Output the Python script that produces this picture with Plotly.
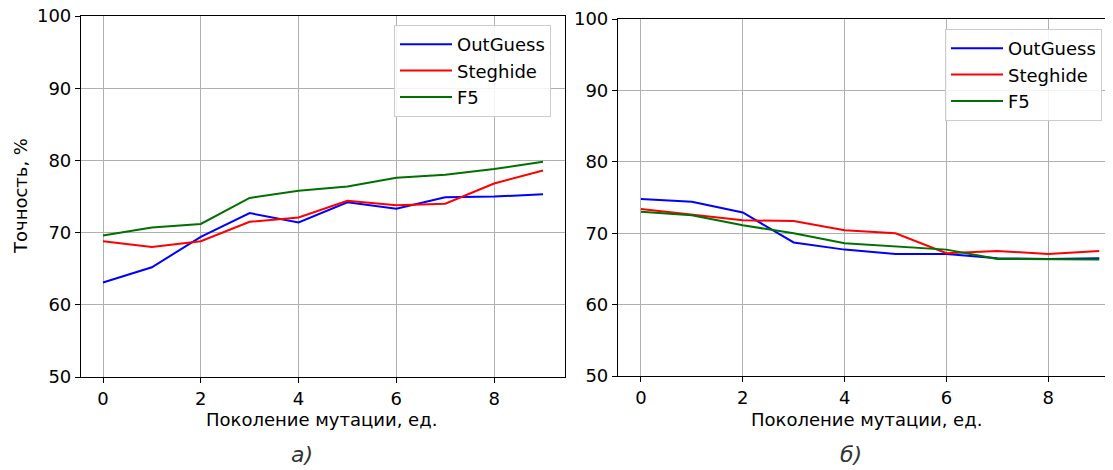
import plotly.graph_objects as go

generations = list(range(10))

# panel a)
a_outguess = [63.1, 65.2, 69.4, 72.7, 71.4, 74.2, 73.3, 74.9, 75.0, 75.3]
a_steghide = [68.8, 68.0, 68.8, 71.5, 72.1, 74.4, 73.8, 74.0, 76.8, 78.6]
a_f5 = [69.6, 70.7, 71.2, 74.8, 75.8, 76.4, 77.6, 78.0, 78.8, 79.8]

# panel б)
b_outguess = [74.8, 74.4, 72.9, 68.7, 67.7, 67.1, 67.1, 66.5, 66.4, 66.5]
b_steghide = [73.4, 72.6, 71.8, 71.7, 70.4, 70.0, 67.2, 67.5, 67.1, 67.5]
b_f5 = [73.0, 72.5, 71.1, 70.0, 68.6, 68.2, 67.7, 66.4, 66.3, 66.3]

series_names = ["OutGuess", "Steghide", "F5"]
colors = ["#0000ff", "#ff0000", "#007000"]
x_ticks = [0, 2, 4, 6, 8]
y_ticks = [50, 60, 70, 80, 90, 100]

# page body has an 8px margin; the figure is sized and positioned to compensate
OFF = 8
W, H = 1113 - OFF, 470 - OFF
FONT = "DejaVu Sans"
FS = 18


def px(x):
    return (x - OFF) / W


def py(y):
    return 1 - (y - OFF) / H


fig = go.Figure()
for vals, name, c in zip([a_outguess, a_steghide, a_f5], series_names, colors):
    fig.add_trace(go.Scatter(x=generations, y=vals, mode="lines", name=name,
                             line=dict(color=c, width=2), xaxis="x", yaxis="y",
                             legend="legend"))
for vals, name, c in zip([b_outguess, b_steghide, b_f5], series_names, colors):
    fig.add_trace(go.Scatter(x=generations, y=vals, mode="lines", name=name,
                             line=dict(color=c, width=2), xaxis="x2", yaxis="y2",
                             legend="legend2"))

axis_common = dict(showline=True, linecolor="black", linewidth=1.2, mirror=True,
                   showgrid=True, gridcolor="#b0b0b0", gridwidth=1,
                   ticks="outside", ticklen=5, tickcolor="black",
                   tickfont=dict(family=FONT, size=FS, color="black"),
                   ticklabeloverflow="allow",
                   zeroline=False, fixedrange=True, automargin=False)

legend_common = dict(yanchor="top",
                     bgcolor="rgba(255,255,255,0.85)", bordercolor="#cccccc", borderwidth=1,
                     font=dict(family=FONT, size=FS), tracegroupgap=0, itemwidth=52)

fig.update_layout(
    width=W, height=H,
    margin=dict(l=0, r=0, t=0, b=0, autoexpand=False),
    paper_bgcolor="white", plot_bgcolor="white",
    font=dict(family=FONT, size=FS, color="black"),
    xaxis=dict(domain=[px(81), px(565)], range=[-0.45, 9.45], tickvals=x_ticks,
               anchor="y", **axis_common),
    yaxis=dict(domain=[py(377), py(16)], range=[50, 100], tickvals=y_ticks,
               anchor="x", **axis_common),
    xaxis2=dict(domain=[px(618), 1.0], range=[-0.45, 9.27], tickvals=x_ticks,
                anchor="y2", **axis_common),
    yaxis2=dict(domain=[py(376), py(19)], range=[50, 100], tickvals=y_ticks,
                anchor="x2", **axis_common),
    legend=dict(x=px(394), y=py(25), xanchor="left", **legend_common),
    legend2=dict(x=px(945), y=py(29), xanchor="left", **legend_common),
    showlegend=True,
)

ann = [
    dict(text="Поколение мутации, ед.", x=px(321), y=py(419)),
    dict(text="Поколение мутации, ед.", x=px(866), y=py(419)),
    dict(text="Точность, %", x=px(20), y=py(196), textangle=-90),
    dict(text="<i>а)</i>", x=px(302), y=py(454), font=dict(family=FONT, size=22, color="#333333")),
    dict(text="<i>б)</i>", x=px(851), y=py(454), font=dict(family=FONT, size=22, color="#333333")),
]
for a in ann:
    d = dict(xref="paper", yref="paper", showarrow=False, xanchor="center", yanchor="middle",
             font=dict(family=FONT, size=FS, color="black"))
    d.update(a)
    fig.add_annotation(**d)

fig.write_html("out.html")
